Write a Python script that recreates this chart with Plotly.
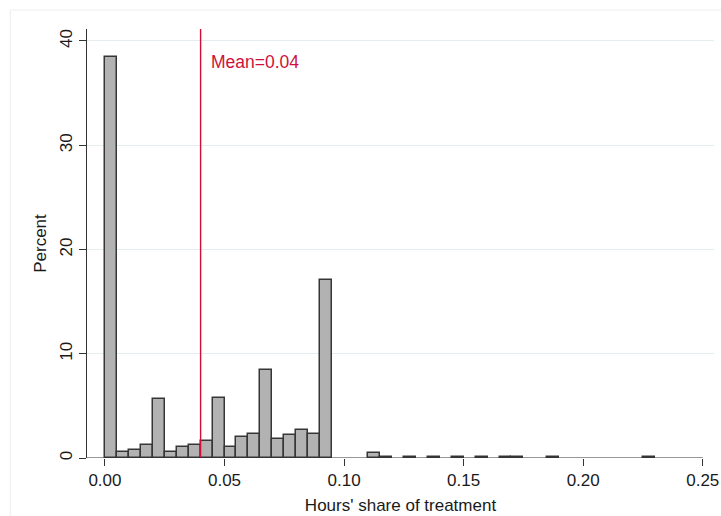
import plotly.graph_objects as go

# Histogram data (bin width 0.005), percent of observations
bin_left = [0.000, 0.005, 0.010, 0.015, 0.020, 0.025, 0.030, 0.035, 0.040, 0.045,
            0.050, 0.055, 0.060, 0.065, 0.070, 0.075, 0.080, 0.085, 0.090, 0.110,
            0.115, 0.125, 0.135, 0.145, 0.155, 0.165, 0.170, 0.185, 0.225]
percent = [38.45, 0.54, 0.76, 1.27, 5.67, 0.54, 1.02, 1.21, 1.62, 5.80,
           1.02, 2.00, 2.32, 8.47, 1.82, 2.23, 2.64, 2.29, 17.10, 0.48,
           0.08, 0.08, 0.08, 0.08, 0.08, 0.08, 0.08, 0.08, 0.08]
bin_width = 0.005
mean_value = 0.04
mean_label = "Mean=0.04"

x_ticks = [0.00, 0.05, 0.10, 0.15, 0.20, 0.25]
y_ticks = [0, 10, 20, 30, 40]

FONT = "Liberation Sans, Arial, Helvetica, sans-serif"
RED = "#d0103a"
TXT = "#1a1a1a"

fig = go.Figure()
fig.add_trace(go.Bar(
    x=bin_left, y=percent, width=[bin_width] * len(bin_left), offset=0,
    marker=dict(color="#b2b2b2", line=dict(color="#363636", width=1.5)),
    hoverinfo="x+y", showlegend=False,
))

# mean line and label
fig.add_shape(type="line", xref="x", yref="paper", x0=mean_value, x1=mean_value,
              y0=0, y1=1, line=dict(color=RED, width=1.4), layer="above")
fig.add_annotation(x=mean_value, y=38.0, xref="x", yref="y", text=mean_label,
                   showarrow=False, xanchor="left", yanchor="middle", xshift=8,
                   font=dict(family=FONT, size=17.5, color=RED))

# x axis line (spans to 0.25 only, as in reference)
fig.add_shape(type="line", xref="x", yref="y", x0=-0.0075, x1=0.25, y0=0, y1=0,
              line=dict(color="#333333", width=1.1), layer="above")

# faint outer graph-region frame
fig.add_shape(type="rect", xref="paper", yref="paper", x0=-0.1223, x1=1.2,
              y0=-0.3, y1=1.0443, line=dict(color="#f0f0f0", width=1.2),
              fillcolor="rgba(0,0,0,0)", layer="below")

fig.update_layout(
    width=721, height=516,
    margin=dict(l=87, r=7, t=29, b=58),
    paper_bgcolor="white", plot_bgcolor="white",
    font=dict(family=FONT, size=17, color=TXT),
    bargap=0,
    xaxis=dict(
        range=[-0.0075, 0.2547], tickvals=x_ticks, tickformat=".2f",
        ticks="outside", ticklen=7, tickcolor="#333333", tickwidth=1.1,
        tickfont=dict(color=TXT), automargin=False,
        showgrid=False, zeroline=False, showline=False,
        title=dict(text="Hours' share of treatment", standoff=9,
                   font=dict(family=FONT, size=17, color=TXT)),
    ),
    yaxis=dict(
        range=[0, 41.15], tickvals=y_ticks, tickangle=-90,
        ticks="outside", ticklen=7, tickcolor="#333333", tickwidth=1.1,
        tickfont=dict(color=TXT), automargin=False,
        showgrid=True, gridcolor="#e4edf0", gridwidth=1.2,
        zeroline=False, showline=True, linecolor="#333333", linewidth=1.1,
        title=dict(text="Percent", standoff=6, font=dict(family=FONT, size=17, color=TXT)),
    ),
)

fig.write_html("out.html", config={"displayModeBar": False},
               post_script="document.body.style.margin='0';document.body.style.overflow='hidden';")
